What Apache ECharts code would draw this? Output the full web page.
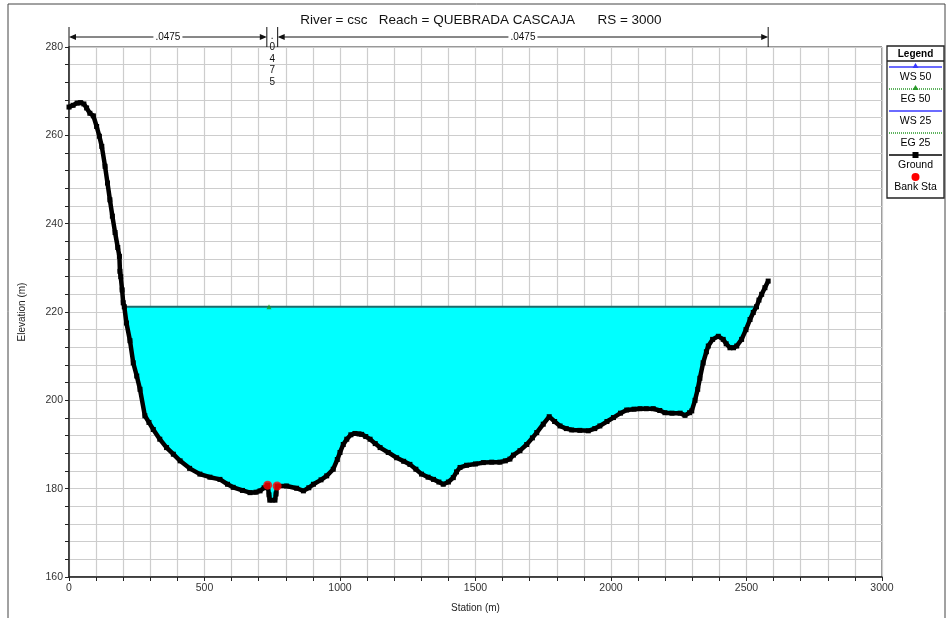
<!DOCTYPE html>
<html>
<head>
<meta charset="utf-8">
<title>River = csc Reach = QUEBRADA CASCAJA RS = 3000</title>
<script src="https://cdn.jsdelivr.net/npm/echarts@6/dist/echarts.min.js"></script>
<style>
  html, body { margin: 0; padding: 0; background: #ffffff; }
  #chart { width: 947px; height: 618px; }
</style>
</head>
<body>
<div id="chart"></div>
<script>
// Cross section ground profile: station (m) and elevation (m)
const STATION = [
  0, 15, 30, 43, 55, 65, 77, 90, 102, 112, 121, 133, 142, 151, 160, 170, 180, 186, 188, 191,
  196, 200, 204, 212, 225, 237, 250, 262, 280, 295, 311, 335, 360, 385, 410, 445, 483, 520, 557, 585,
  606, 640, 668, 690, 705, 720, 733, 738, 741, 760, 764, 768, 803, 840, 865, 885, 902, 930, 951, 975,
  990, 1000, 1012, 1025, 1040, 1055, 1070, 1080, 1095, 1111, 1130, 1148, 1178, 1209, 1235, 1258, 1280, 1301, 1325, 1345,
  1365, 1381, 1400, 1418, 1430, 1443, 1467, 1500, 1529, 1560, 1590, 1610, 1627, 1640, 1664, 1689, 1710, 1726, 1750, 1772,
  1792, 1812, 1835, 1855, 1885, 1916, 1940, 1959, 1985, 2009, 2035, 2058, 2085, 2107, 2130, 2156, 2180, 2199, 2225, 2255,
  2273, 2290, 2298, 2310, 2320, 2328, 2340, 2352, 2359, 2375, 2396, 2414, 2425, 2439, 2452, 2464, 2482, 2498, 2513, 2525,
  2537, 2546, 2556, 2568, 2580
];
const ELEV = [
  266.4, 266.8, 267.3, 267.4, 267.1, 266.2, 265.0, 264.4, 262.0, 259.8, 257.5, 253.0, 249.2, 245.4, 241.7, 238.0, 234.6, 232.6, 229.2, 228.0,
  225.0, 222.1, 221.2, 217.5, 213.5, 208.5, 205.5, 202.5, 196.5, 195.0, 193.4, 191.2, 189.3, 187.8, 186.3, 184.6, 183.3, 182.6, 182.1, 181.0,
  180.3, 179.6, 179.1, 179.2, 179.5, 180.2, 180.8, 178.6, 177.4, 177.4, 178.8, 180.6, 180.6, 180.1, 179.5, 180.2, 181.0, 182.0, 182.9, 184.4,
  186.6, 188.2, 190.0, 191.2, 192.2, 192.5, 192.4, 192.3, 191.8, 191.2, 190.2, 189.3, 188.2, 187.0, 186.2, 185.5, 184.4, 183.3, 182.6, 182.1,
  181.5, 181.0, 181.5, 182.5, 183.8, 184.8, 185.3, 185.6, 185.9, 186.0, 186.0, 186.3, 186.7, 187.6, 188.6, 190.0, 191.5, 192.7, 194.6, 196.3,
  195.2, 194.2, 193.6, 193.3, 193.2, 193.1, 193.6, 194.2, 195.2, 196.1, 197.1, 197.8, 198.0, 198.1, 198.1, 198.1, 197.7, 197.2, 197.1, 197.1,
  196.6, 197.2, 197.6, 200.0, 202.5, 205.0, 208.5, 211.0, 212.3, 213.8, 214.5, 213.8, 212.8, 211.9, 211.9, 212.3, 213.8, 216.0, 218.3, 219.9,
  221.2, 222.7, 224.0, 225.5, 227.0
];

// Water surface and energy grade (profiles 50 and 25 coincide)
const WS_ELEV = 221.2;
const WS_EDGES = [204, 2537];
const EG_MARK_STATIONS = [204, 738, 2537];

// Bank stations
const BANK_STA = [733, 768];
const BANK_ELEV = [180.8, 180.6];

// Manning's n regions: breaks in station and the value of each region
const N_BREAKS = [0, 730, 770, 2580];
const N_VALUES = ['.0475', '.0475', '.0475'];

// Axis ranges and labelled ticks
const X_RANGE = [0, 3000];
const Y_RANGE = [160, 280];
const X_LABELS = [0, 500, 1000, 1500, 2000, 2500, 3000];
const Y_LABELS = [160, 180, 200, 220, 240, 260, 280];

const TITLE = 'River = csc   Reach = QUEBRADA CASCAJA      RS = 3000';
const FONT = '"Liberation Sans", Arial, sans-serif';

const groundData = STATION.map((s, i) => [s, ELEV[i]]);
const bankData = BANK_STA.map((s, i) => [s, BANK_ELEV[i]]);
const wsData = WS_EDGES.map(s => [s, WS_ELEV]);
const egMarks = EG_MARK_STATIONS.map(s => [s, WS_ELEV]);

const chart = echarts.init(document.getElementById('chart'), null, { renderer: 'canvas' });

const option = {
  animation: false,
  backgroundColor: '#ffffff',
  title: {
    text: TITLE,
    left: 476, top: 8, textAlign: 'center',
    textStyle: { fontFamily: FONT, fontSize: 13.5, fontWeight: 'normal', color: '#111' }
  },
  grid: {
    left: 69, right: 65, top: 47, bottom: 40,
    show: true, borderColor: '#333', borderWidth: 1, backgroundColor: 'transparent'
  },
  xAxis: {
    type: 'value', min: X_RANGE[0], max: X_RANGE[1], interval: 100,
    name: 'Station (m)', nameLocation: 'middle', nameGap: 26,
    nameTextStyle: { fontFamily: FONT, fontSize: 10, color: '#222' },
    axisLine: { show: true, lineStyle: { color: '#222', width: 1.5 } },
    axisTick: { show: true, length: 4, lineStyle: { color: '#222' } },
    axisLabel: {
      fontFamily: FONT, fontSize: 10.5, color: '#333', margin: 6,
      formatter: v => (X_LABELS.indexOf(v) >= 0 ? String(v) : '')
    },
    splitLine: { show: true, lineStyle: { color: '#cdcdcd', width: 1.2 } }
  },
  yAxis: {
    type: 'value', min: Y_RANGE[0], max: Y_RANGE[1], interval: 4,
    name: 'Elevation (m)', nameLocation: 'middle', nameGap: 42, nameRotate: 90,
    nameTextStyle: { fontFamily: FONT, fontSize: 10, color: '#222' },
    axisLine: { show: true, lineStyle: { color: '#222', width: 1.5 } },
    axisTick: { show: true, length: 4, lineStyle: { color: '#222' } },
    axisLabel: {
      fontFamily: FONT, fontSize: 10.5, color: '#333', margin: 6,
      formatter: v => (Y_LABELS.indexOf(v) >= 0 ? String(v) : '')
    },
    splitLine: { show: true, lineStyle: { color: '#cdcdcd', width: 1.2 } }
  },
  series: [
    {
      // flow area between the water surface and the ground
      name: 'Flow area', type: 'custom', z: 1, silent: true,
      data: [[WS_EDGES[0], WS_ELEV]],
      renderItem: (params, api) => {
        const pts = [api.coord([WS_EDGES[0], WS_ELEV])];
        for (let i = 0; i < STATION.length; i++) {
          if (STATION[i] > WS_EDGES[0] && STATION[i] < WS_EDGES[1] && ELEV[i] <= WS_ELEV) {
            pts.push(api.coord([STATION[i], ELEV[i]]));
          }
        }
        pts.push(api.coord([WS_EDGES[1], WS_ELEV]));
        return { type: 'polygon', shape: { points: pts }, style: { fill: '#00ffff' } };
      }
    },
    {
      name: 'WS 50', type: 'line', z: 3, data: wsData,
      symbol: 'none', lineStyle: { color: '#1d6a6a', width: 2 }
    },
    {
      name: 'EG 50', type: 'scatter', z: 4, data: egMarks,
      symbol: 'triangle', symbolSize: 5, itemStyle: { color: '#1c9a1c' }
    },
    {
      name: 'Ground', type: 'line', z: 5, data: groundData,
      symbol: 'rect', symbolSize: 5, showAllSymbol: true,
      itemStyle: { color: '#000' }, lineStyle: { color: '#000', width: 4.5 }
    },
    {
      name: 'Bank Sta', type: 'scatter', z: 6, data: bankData,
      symbol: 'circle', symbolSize: 9, itemStyle: { color: '#ff0000' }
    }
  ]
};

chart.setOption(option);

// Manning's n annotation above the plot and the legend box
function buildGraphics() {
  const g = [];
  const yTop = chart.convertToPixel({ gridIndex: 0 }, [0, Y_RANGE[1]])[1];
  const arrowY = yTop - 10;
  const px = s => chart.convertToPixel({ gridIndex: 0 }, [s, Y_RANGE[1]])[0];

  // outer frame
  g.push({ type: 'rect', shape: { x: 8, y: 4, width: 937, height: 620 },
    style: { fill: 'none', stroke: '#444', lineWidth: 1 }, z: 0 });

  const regions = [[0, 1], [2, 3]];
  regions.forEach(([a, b]) => {
    const x0 = px(N_BREAKS[a]), x1 = px(N_BREAKS[b]);
    [x0, x1].forEach(x => g.push({ type: 'line', shape: { x1: x, y1: arrowY - 10, x2: x, y2: yTop },
      style: { stroke: '#111', lineWidth: 1 }, z: 10 }));
    g.push({ type: 'line', shape: { x1: x0 + 2, y1: arrowY, x2: x1 - 2, y2: arrowY },
      style: { stroke: '#111', lineWidth: 1 }, z: 10 });
    g.push({ type: 'polygon', shape: { points: [[x0, arrowY], [x0 + 7, arrowY - 3], [x0 + 7, arrowY + 3]] },
      style: { fill: '#111' }, z: 10 });
    g.push({ type: 'polygon', shape: { points: [[x1, arrowY], [x1 - 7, arrowY - 3], [x1 - 7, arrowY + 3]] },
      style: { fill: '#111' }, z: 10 });
    g.push({ type: 'text', x: (x0 + x1) / 2, y: arrowY, z: 11,
      style: { text: N_VALUES[a === 0 ? 0 : 2], fontFamily: FONT, fontSize: 10, fill: '#111',
        align: 'center', verticalAlign: 'middle', backgroundColor: '#fff', padding: [0, 2] } });
  });
  // narrow channel region: value written vertically
  const xm = (px(N_BREAKS[1]) + px(N_BREAKS[2])) / 2;
  g.push({ type: 'text', x: xm, y: arrowY - 7, z: 11,
    style: { text: N_VALUES[1].split('').join('\n'), fontFamily: FONT, fontSize: 10, lineHeight: 11.5,
      fill: '#111', align: 'center', verticalAlign: 'top' } });

  // legend
  const lx = 887, ly = 46, lw = 57, lh = 152, cx = lx + lw / 2;
  g.push({ type: 'rect', shape: { x: lx, y: ly, width: lw, height: lh },
    style: { fill: '#fff', stroke: '#222', lineWidth: 1.3 }, z: 20 });
  g.push({ type: 'line', shape: { x1: lx, y1: ly + 15, x2: lx + lw, y2: ly + 15 },
    style: { stroke: '#222', lineWidth: 1.3 }, z: 21 });
  g.push({ type: 'text', x: cx, y: ly + 8, z: 21,
    style: { text: 'Legend', fontFamily: FONT, fontSize: 10, fontWeight: 'bold', fill: '#000',
      align: 'center', verticalAlign: 'middle' } });

  const items = [
    { label: 'WS 50', color: '#3a3aff', dash: null, mark: 'tri', y: 67 },
    { label: 'EG 50', color: '#2a9a2a', dash: [1, 1], mark: 'tri', y: 89 },
    { label: 'WS 25', color: '#3a3aff', dash: null, mark: null, y: 111 },
    { label: 'EG 25', color: '#2a9a2a', dash: [1, 1], mark: null, y: 133 },
    { label: 'Ground', color: '#000', dash: null, mark: 'sq', y: 155 },
    { label: 'Bank Sta', color: '#ff0000', dash: null, mark: 'dot', y: 177 }
  ];
  items.forEach(it => {
    if (it.mark !== 'dot') {
      g.push({ type: 'line', shape: { x1: lx + 2, y1: it.y, x2: lx + lw - 2, y2: it.y },
        style: { stroke: it.color, lineWidth: 1.5, lineDash: it.dash }, z: 21 });
    }
    if (it.mark === 'tri') {
      g.push({ type: 'polygon', shape: { points: [[cx, it.y - 4], [cx - 3, it.y + 1], [cx + 3, it.y + 1]] },
        style: { fill: it.color }, z: 22 });
    } else if (it.mark === 'sq') {
      g.push({ type: 'rect', shape: { x: cx - 3, y: it.y - 3, width: 6, height: 6 },
        style: { fill: it.color }, z: 22 });
    } else if (it.mark === 'dot') {
      g.push({ type: 'circle', shape: { cx: cx, cy: it.y, r: 4 }, style: { fill: it.color }, z: 22 });
    }
    g.push({ type: 'text', x: cx, y: it.y + 10, z: 21,
      style: { text: it.label, fontFamily: FONT, fontSize: 10.5, fill: '#000',
        align: 'center', verticalAlign: 'middle' } });
  });
  return g;
}

chart.setOption({ graphic: buildGraphics() });
</script>
</body>
</html>
